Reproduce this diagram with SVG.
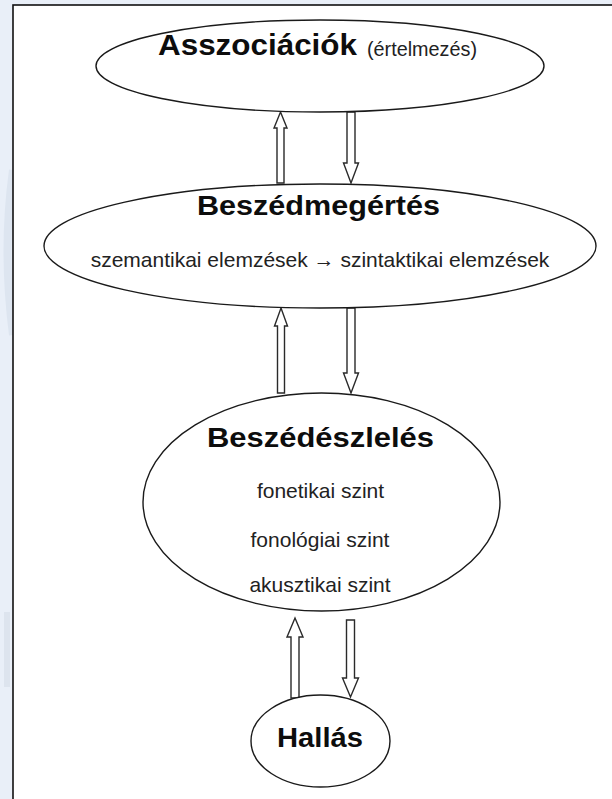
<svg xmlns="http://www.w3.org/2000/svg" width="612" height="799" viewBox="0 0 612 799">
<style>
.node{fill:#ffffff;stroke:#1a1a1a;stroke-width:1.4}
.arrow{fill:#ffffff;stroke:#2a2a2a;stroke-width:1.4;stroke-linejoin:miter}
.title{font-family:"Liberation Sans",Arial,sans-serif;font-weight:bold;fill:#0d0d0d}
.body{font-family:"Liberation Sans",Arial,sans-serif;fill:#222222;font-size:21px}
</style>
<rect x="0" y="0" width="612" height="799" fill="#e9eff8"/>
<path d="M13 170 Q2 250 13 335" fill="none" stroke="#dde5f0" stroke-width="8"/>
<rect x="4" y="612" width="6" height="75" fill="#dde4ee"/>
<rect x="13" y="5" width="610" height="800" fill="#ffffff" stroke="#111111" stroke-width="1.6"/>
<g id="connectors">
<polygon class="arrow" points="280.5,112 287,128 284,128 284,183 277,183 277,128 274,128"/>
<polygon class="arrow" points="347,112 355,112 355,163 358.5,163 351,183 343.5,163 347,163"/>
<polygon class="arrow" points="281,308 287.5,326 284.5,326 284.5,393 277.5,393 277.5,326 274.5,326"/>
<polygon class="arrow" points="347,308 355,308 355,373 358.5,373 351,393 343.5,373 347,373"/>
<polygon class="arrow" points="295,618 303,637 299,637 299,698 291,698 291,637 287,637"/>
<polygon class="arrow" points="346.5,620 354.5,620 354.5,678 358.5,678 350.5,697 342.5,678 346.5,678"/>
</g>
<g id="asszociaciok">
<ellipse class="node" cx="320" cy="66" rx="224" ry="46"/>
<text x="158" y="55"><tspan class="title" font-size="30" textLength="199" lengthAdjust="spacingAndGlyphs">Asszociációk</tspan><tspan class="body" font-size="17" dx="10" dy="1" textLength="110" lengthAdjust="spacingAndGlyphs">(értelmezés)</tspan></text>
</g>
<g id="beszedmegertes">
<ellipse class="node" cx="320" cy="246" rx="276" ry="62"/>
<text class="title" x="318.5" y="215" font-size="28" text-anchor="middle" textLength="243" lengthAdjust="spacingAndGlyphs">Beszédmegértés</text>
<text class="body" x="320" y="267" text-anchor="middle">szemantikai elemzések → szintaktikai elemzések</text>
</g>
<g id="beszedeszleles">
<ellipse class="node" cx="321.5" cy="502" rx="178.5" ry="109"/>
<text class="title" x="320.5" y="447" font-size="28" text-anchor="middle" textLength="227" lengthAdjust="spacingAndGlyphs">Beszédészlelés</text>
<text class="body" x="320.5" y="498" text-anchor="middle">fonetikai szint</text>
<text class="body" x="320" y="547" text-anchor="middle">fonológiai szint</text>
<text class="body" x="320" y="592" text-anchor="middle">akusztikai szint</text>
</g>
<g id="hallas">
<ellipse class="node" cx="320.5" cy="741" rx="69.5" ry="46"/>
<text class="title" x="320" y="747" font-size="28" text-anchor="middle" textLength="86" lengthAdjust="spacingAndGlyphs">Hallás</text>
</g>
</svg>
